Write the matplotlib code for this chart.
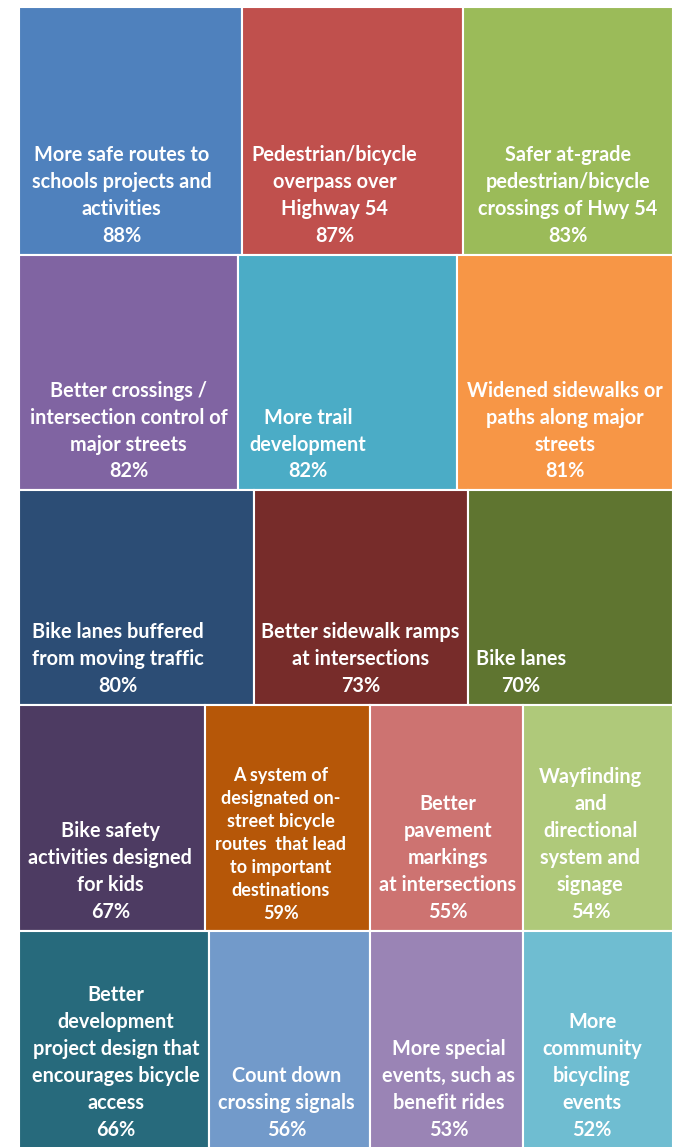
import matplotlib
matplotlib.use('Agg')
import matplotlib.pyplot as plt
from matplotlib.patches import Rectangle

# survey results: share of respondents rating each improvement as important
labels = [
    'More safe routes to\nschools projects and\nactivities',
    'Pedestrian/bicycle\noverpass over\nHighway 54',
    'Safer at-grade\npedestrian/bicycle\ncrossings of Hwy 54',
    'Better crossings /\nintersection control of\nmajor streets',
    'More trail\ndevelopment',
    'Widened sidewalks or\npaths along major\nstreets',
    'Bike lanes buffered\nfrom moving traffic',
    'Better sidewalk ramps\nat intersections',
    'Bike lanes',
    'Bike safety\nactivities designed\nfor kids',
    'A system of\ndesignated on-\nstreet bicycle\nroutes  that lead\nto important\ndestinations',
    'Better\npavement\nmarkings\nat intersections',
    'Wayfinding\nand\ndirectional\nsystem and\nsignage',
    'Better\ndevelopment\nproject design that\nencourages bicycle\naccess',
    'Count down\ncrossing signals',
    'More special\nevents, such as\nbenefit rides',
    'More\ncommunity\nbicycling\nevents',
]
values = [88, 87, 83, 82, 82, 81, 80, 73, 70, 67, 59, 55, 54, 66, 56, 53, 52]

# tiles per row of the treemap
row_sizes = [3, 3, 3, 4, 4]

colors = ['#4F81BD', '#C0504D', '#9BBB59',
          '#8064A2', '#4BACC6', '#F79646',
          '#2C4D75', '#772C2A', '#5F7530',
          '#4D3B62', '#B65708', '#CD7371', '#AFC97A',
          '#276A7C', '#729ACA', '#9A84B5', '#6FBDD1']

# horizontal label position inside each tile (fraction of tile width)
label_x = [0.46, 0.42, 0.50,
           0.50, 0.32, 0.50,
           0.42, 0.50, 0.26,
           0.49, 0.46, 0.51, 0.45,
           0.51, 0.48, 0.51, 0.46]

W, H = 684, 1147
x0, y0 = 19, 7
width = 654
unit_area = 628.6   # pixels^2 per percentage point

fig = plt.figure(figsize=(W / 100, H / 100), dpi=100)
ax = fig.add_axes([0, 0, 1, 1])
ax.set_xlim(0, W)
ax.set_ylim(H, 0)
ax.axis('off')

i = 0
y = y0
for n in row_sizes:
    row_vals = values[i:i + n]
    h = sum(row_vals) * unit_area / width
    x = x0
    for k in range(n):
        v = row_vals[k]
        w = width * v / sum(row_vals)
        ax.add_patch(Rectangle((x, y), w, h, facecolor=colors[i + k],
                               edgecolor='white', linewidth=1.5))
        fs, ls = (13.0, 1.42) if i + k == 10 else (14.3, 1.43)
        ax.text(x + w * label_x[i + k], y + h - 9,
                labels[i + k] + '\n' + '{}%'.format(v),
                ha='center', va='bottom', multialignment='center',
                color='white', fontsize=fs, fontweight='bold',
                family='Lato', linespacing=ls)
        x += w
    y += h
    i += n

fig.savefig('out.png', dpi=100)
